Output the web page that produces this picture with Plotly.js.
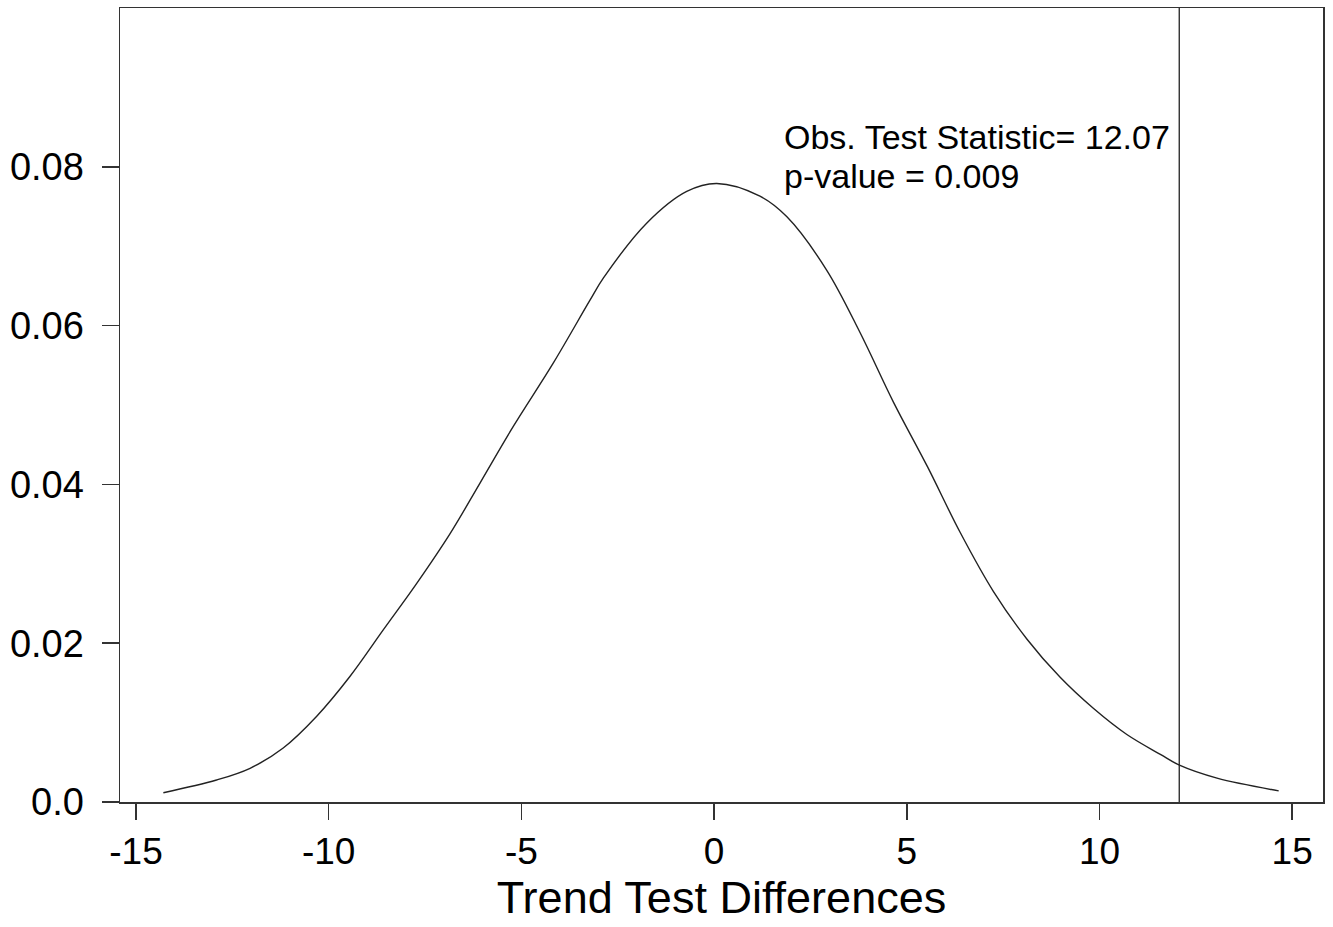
<!DOCTYPE html>
<html>
<head>
<meta charset="utf-8">
<script src="https://cdn.plot.ly/plotly-3.0.1.min.js"></script>
<style>html,body{margin:0;padding:0;background:#fff;}#chart{width:1333px;height:927px;}</style>
</head>
<body>
<div id="chart"></div>
<script>
// Density of trend test differences
const diffX = [-14.29, -12.91, -12.04, -11.18, -10.31, -9.45, -8.58, -7.72, -6.85, -6.07, -5.21, -4.17, -3.22, -2.87, -1.75, -0.71, 0.07, 1.19, 1.89, 2.92, 3.79, 4.65, 5.54, 6.38, 7.25, 8.12, 8.98, 9.84, 10.71, 11.58, 12.09, 13.05, 14.65];
const densityY = [0.00117, 0.00277, 0.00425, 0.0068, 0.0108, 0.0158, 0.0217, 0.0275, 0.0338, 0.0402, 0.0473, 0.0553, 0.0632, 0.0660, 0.0729, 0.0769, 0.0779, 0.0763, 0.0737, 0.0670, 0.0591, 0.0504, 0.0422, 0.0340, 0.0265, 0.0205, 0.0157, 0.0118, 0.0085, 0.0060, 0.0046, 0.0030, 0.0014];
const obsStat = 12.07;
const pValue = 0.009;
const xTicks = [-15, -10, -5, 0, 5, 10, 15];
const xTickLabels = ["-15", "-10", "-5", "0", "5", "10", "15"];
const yTicks = [0, 0.02, 0.04, 0.06, 0.08];
const yTickLabels = ["0.0", "0.02", "0.04", "0.06", "0.08"];

const FONT = "Liberation Sans, Arial, Helvetica, sans-serif";

const trace = {
  x: diffX, y: densityY, type: "scatter", mode: "lines",
  line: {color: "#222", width: 1.4, shape: "spline", smoothing: 1},
  hoverinfo: "skip", showlegend: false
};

const layout = {
  width: 1333, height: 927,
  margin: {l: 120, r: 10, t: 8, b: 125},
  paper_bgcolor: "#fff", plot_bgcolor: "#fff",
  font: {family: FONT, color: "#000"},
  showlegend: false,
  xaxis: {
    range: [-15.415, 15.80], tickvals: xTicks, ticktext: xTickLabels,
    showgrid: false, zeroline: false, showline: true, mirror: true,
    linecolor: "#333", linewidth: 1.5, ticks: "outside", ticklen: 16, tickwidth: 1.5, tickcolor: "#333",
    tickfont: {size: 37, family: FONT, color: "#000"},
    title: {text: "Trend Test Differences", font: {size: 45, family: FONT, color: "#000"}, standoff: 10}
  },
  yaxis: {
    range: [0, 0.1], tickvals: yTicks, ticktext: yTickLabels,
    showgrid: false, zeroline: false, showline: true, mirror: true,
    linecolor: "#333", linewidth: 1.5, ticks: "outside", ticklen: 17, tickwidth: 1.5, tickcolor: "#333",
    ticklabelstandoff: 10,
    tickfont: {size: 38, family: FONT, color: "#000"}
  },
  shapes: [{
    type: "line", xref: "x", yref: "paper", x0: obsStat, x1: obsStat, y0: 0, y1: 1,
    line: {color: "#222", width: 1.3}
  }],
  annotations: [
    {xref: "x", yref: "y", x: 1.76, y: 0.0838, xanchor: "left", yanchor: "middle", showarrow: false,
     text: "Obs. Test Statistic= " + obsStat.toFixed(2), font: {size: 34, family: FONT, color: "#000"}},
    {xref: "x", yref: "y", x: 1.76, y: 0.0788, xanchor: "left", yanchor: "middle", showarrow: false,
     text: "p-value = " + pValue.toFixed(3), font: {size: 34, family: FONT, color: "#000"}}
  ]
};

Plotly.newPlot("chart", [trace], layout, {displayModeBar: false, staticPlot: true});
</script>
</body>
</html>
